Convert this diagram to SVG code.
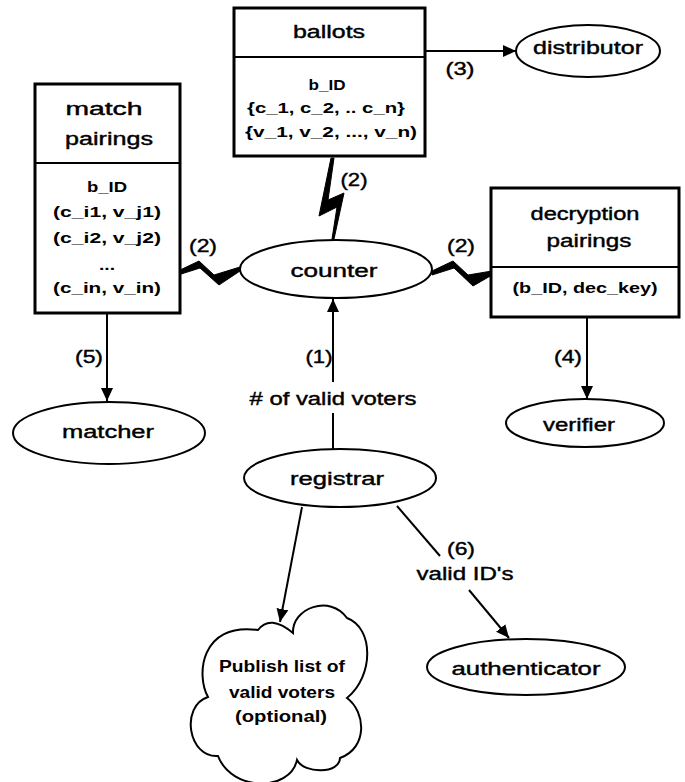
<svg xmlns="http://www.w3.org/2000/svg" width="685" height="782" viewBox="0 0 685 782">
<style>
  .box { fill: #fff; stroke: #000; stroke-width: 3; }
  .ell { fill: #fff; stroke: #000; stroke-width: 2; }
  .ln { fill: none; stroke: #000; stroke-width: 2; }
  .bolt { fill: #000; stroke: #000; stroke-width: 1; stroke-linejoin: miter; }
  .lbl { font-family: "Liberation Sans", Arial, sans-serif; font-size: 18px; fill: #000; stroke: #000; stroke-width: 0.4; text-anchor: middle; }
  .body { font-family: "Liberation Sans", Arial, sans-serif; font-size: 15px; font-weight: bold; fill: #000; text-anchor: middle; }
  .cl { font-family: "Liberation Sans", Arial, sans-serif; font-size: 16px; font-weight: bold; fill: #000; text-anchor: middle; }
</style>
<defs>
  <marker id="arr" markerUnits="userSpaceOnUse" markerWidth="14" markerHeight="14" viewBox="0 0 14 14" refX="13" refY="7" orient="auto">
    <path d="M0,1 L13,7 L0,13 Z" fill="#000"/>
  </marker>
</defs>
<rect width="685" height="782" fill="#fff"/>

<g id="connectors">
  <!-- (3) ballots -> distributor -->
  <line class="ln" x1="425" y1="51" x2="516" y2="51" marker-end="url(#arr)"/>
  <text class="lbl" x="460" y="75" textLength="29" lengthAdjust="spacingAndGlyphs">(3)</text>
  <!-- (2) bolts -->
  <polygon class="bolt" points="331,158 334,158 328,200 344,193 334,239 332,239 337,207 319,216"/>
  <text class="lbl" x="354" y="186" textLength="27" lengthAdjust="spacingAndGlyphs">(2)</text>
  <polygon class="bolt" points="178,271 199,261 214,275 240,267 240,271 219,285 200,268 178,275"/>
  <text class="lbl" x="203" y="252" textLength="28" lengthAdjust="spacingAndGlyphs">(2)</text>
  <polygon class="bolt" points="432,271 453,261 468,275 492,271 492,275 473,286 454,268 432,275"/>
  <text class="lbl" x="461" y="252" textLength="28" lengthAdjust="spacingAndGlyphs">(2)</text>
  <!-- (1) registrar -> counter -->
  <line class="ln" x1="333" y1="382" x2="333" y2="299" marker-end="url(#arr)"/>
  <line class="ln" x1="333" y1="413" x2="333" y2="449"/>
  <text class="lbl" x="319" y="363" textLength="27" lengthAdjust="spacingAndGlyphs">(1)</text>
  <text class="lbl" x="333" y="405" textLength="167" lengthAdjust="spacingAndGlyphs"># of valid voters</text>
  <!-- (5) match pairings -> matcher -->
  <line class="ln" x1="107" y1="313" x2="107" y2="401" marker-end="url(#arr)"/>
  <text class="lbl" x="89" y="363" textLength="28" lengthAdjust="spacingAndGlyphs">(5)</text>
  <!-- (4) decryption -> verifier -->
  <line class="ln" x1="587" y1="317" x2="587" y2="399" marker-end="url(#arr)"/>
  <text class="lbl" x="568" y="363" textLength="28" lengthAdjust="spacingAndGlyphs">(4)</text>
  <!-- registrar -> cloud -->
  <line class="ln" x1="302" y1="507" x2="280" y2="622" marker-end="url(#arr)"/>
  <!-- (6) registrar -> authenticator -->
  <line class="ln" x1="397" y1="506" x2="440" y2="556"/>
  <line class="ln" x1="469" y1="590" x2="509" y2="638" marker-end="url(#arr)"/>
  <text class="lbl" x="461" y="555" textLength="28" lengthAdjust="spacingAndGlyphs">(6)</text>
  <text class="lbl" x="465" y="580" textLength="97" lengthAdjust="spacingAndGlyphs">valid ID's</text>
</g>

<g id="ballots">
  <rect class="box" x="234" y="8" width="191" height="148"/>
  <line class="ln" x1="234" y1="57" x2="425" y2="57" stroke-width="3"/>
  <text class="lbl" x="329" y="38" textLength="72" lengthAdjust="spacingAndGlyphs">ballots</text>
  <text class="body" x="327" y="90" textLength="37" lengthAdjust="spacingAndGlyphs">b_ID</text>
  <text class="body" x="326" y="113" textLength="158" lengthAdjust="spacingAndGlyphs">{c_1, c_2, .. c_n}</text>
  <text class="body" x="331" y="137" textLength="172" lengthAdjust="spacingAndGlyphs">{v_1, v_2, ..., v_n)</text>
</g>

<g id="match-pairings">
  <rect class="box" x="35" y="84" width="145" height="229"/>
  <line class="ln" x1="35" y1="163" x2="180" y2="163" stroke-width="3"/>
  <text class="lbl" x="104" y="115" textLength="77" lengthAdjust="spacingAndGlyphs">match</text>
  <text class="lbl" x="109" y="145" textLength="88" lengthAdjust="spacingAndGlyphs">pairings</text>
  <text class="body" x="107" y="192" textLength="40" lengthAdjust="spacingAndGlyphs">b_ID</text>
  <text class="body" x="107" y="217" textLength="108" lengthAdjust="spacingAndGlyphs">(c_i1, v_j1)</text>
  <text class="body" x="107" y="243" textLength="108" lengthAdjust="spacingAndGlyphs">(c_i2, v_j2)</text>
  <text class="body" x="107" y="270" textLength="16" lengthAdjust="spacingAndGlyphs">...</text>
  <text class="body" x="107" y="293" textLength="108" lengthAdjust="spacingAndGlyphs">(c_in, v_in)</text>
</g>

<g id="decryption-pairings">
  <rect class="box" x="491" y="188" width="188" height="129"/>
  <line class="ln" x1="491" y1="267" x2="679" y2="267" stroke-width="3"/>
  <text class="lbl" x="585" y="220" textLength="109" lengthAdjust="spacingAndGlyphs">decryption</text>
  <text class="lbl" x="589" y="247" textLength="85" lengthAdjust="spacingAndGlyphs">pairings</text>
  <text class="body" x="585" y="293" textLength="145" lengthAdjust="spacingAndGlyphs">(b_ID, dec_key)</text>
</g>

<g id="distributor">
  <ellipse class="ell" cx="588" cy="51" rx="72" ry="26"/>
  <text class="lbl" x="588" y="54" textLength="110" lengthAdjust="spacingAndGlyphs">distributor</text>
</g>

<g id="counter">
  <ellipse class="ell" cx="336" cy="269" rx="96" ry="29"/>
  <text class="lbl" x="334" y="277" textLength="87" lengthAdjust="spacingAndGlyphs">counter</text>
</g>

<g id="matcher">
  <ellipse class="ell" cx="109" cy="433" rx="96" ry="31"/>
  <text class="lbl" x="108" y="438" textLength="92" lengthAdjust="spacingAndGlyphs">matcher</text>
</g>

<g id="verifier">
  <ellipse class="ell" cx="585" cy="423" rx="79" ry="24"/>
  <text class="lbl" x="579" y="431" textLength="72" lengthAdjust="spacingAndGlyphs">verifier</text>
</g>

<g id="registrar">
  <ellipse class="ell" cx="340" cy="478" rx="96" ry="29"/>
  <text class="lbl" x="337" y="485" textLength="94" lengthAdjust="spacingAndGlyphs">registrar</text>
</g>

<g id="authenticator">
  <ellipse class="ell" cx="526" cy="667" rx="99" ry="28"/>
  <text class="lbl" x="526" y="675" textLength="149" lengthAdjust="spacingAndGlyphs">authenticator</text>
</g>

<g id="publish-cloud">
  <path class="ell" d="M 258 630 Q 270 614 293 633 C 292 608 330 594 347 618 C 374 628 374 676 347 698 C 366 712 368 748 340 758 C 340 774 304 774 297 760 C 290 792 232 792 218 756 C 188 758 180 706 208 697 C 196 676 200 622 258 630 Z"/>
  <text class="cl" x="282" y="672" textLength="126" lengthAdjust="spacingAndGlyphs">Publish list of</text>
  <text class="cl" x="282" y="698" textLength="106" lengthAdjust="spacingAndGlyphs">valid voters</text>
  <text class="cl" x="281" y="722" textLength="92" lengthAdjust="spacingAndGlyphs">(optional)</text>
</g>
</svg>
